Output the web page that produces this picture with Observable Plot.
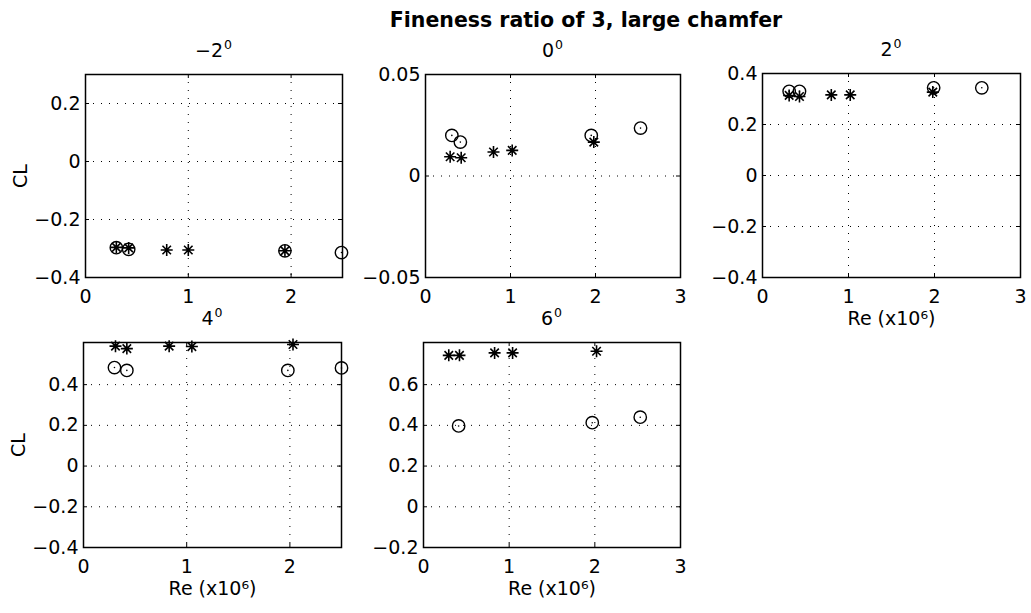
<!DOCTYPE html>
<html><head><meta charset="utf-8">
<script src="https://cdn.jsdelivr.net/npm/d3@7"></script>
<script src="https://cdn.jsdelivr.net/npm/@observablehq/plot@0.6"></script>
<style>
body{margin:0;background:#fff;}
#chart{position:relative;width:1031px;height:613px;font-family:"DejaVu Sans",sans-serif;color:#000;overflow:hidden;}
.ttl{position:absolute;font-weight:bold;font-size:20.5px;white-space:nowrap;transform:translateX(-50%);line-height:1}
.sub{position:absolute;font-size:19px;white-space:nowrap;transform:translateX(-50%);line-height:1}
.sub sup{font-size:12.5px;vertical-align:0;position:relative;top:-0.6em;margin-left:1px}
.panel{position:absolute}
</style></head><body><div id="chart"></div>
<script>
// ---- data ----
const chartTitle = "Fineness ratio of 3, large chamfer";
const angles = ["−2", "0", "2", "4", "6"];
const xLabelText = "Re (x10⁶)";
const yLabelText = "CL";

// −2 deg
const circRe_m2 = [0.30, 0.42, 1.94, 2.49];
const circCL_m2 = [-0.297, -0.303, -0.308, -0.314];
const starRe_m2 = [0.30, 0.42, 0.79, 1.00, 1.94];
const starCL_m2 = [-0.296, -0.298, -0.305, -0.305, -0.308];
// 0 deg
const circRe_0 = [0.31, 0.41, 1.95, 2.53];
const circCL_0 = [0.0200, 0.0167, 0.0200, 0.0236];
const starRe_0 = [0.29, 0.42, 0.80, 1.02, 1.98];
const starCL_0 = [0.0095, 0.0090, 0.0118, 0.0126, 0.0167];
// 2 deg
const circRe_2 = [0.31, 0.43, 1.99, 2.55];
const circCL_2 = [0.330, 0.330, 0.344, 0.344];
const starRe_2 = [0.31, 0.43, 0.80, 1.02, 1.98];
const starCL_2 = [0.314, 0.310, 0.316, 0.316, 0.327];
// 4 deg
const circRe_4 = [0.30, 0.42, 1.98, 2.50];
const circCL_4 = [0.484, 0.470, 0.470, 0.482];
const starRe_4 = [0.31, 0.42, 0.83, 1.05, 2.03];
const starCL_4 = [0.589, 0.577, 0.589, 0.587, 0.597];
// 6 deg
const circRe_6 = [0.41, 1.97, 2.53];
const circCL_6 = [0.397, 0.413, 0.440];
const starRe_6 = [0.295, 0.42, 0.83, 1.04, 2.02];
const starCL_6 = [0.744, 0.744, 0.756, 0.756, 0.764];

// axis domains and tick labels
const xDom25 = [0, 2.5], xDom3 = [0, 3];
const xTicks25 = [0, 1, 2], xTicks3 = [0, 1, 2, 3];
const yDom_m2 = [-0.4, 0.3], yTicks_m2 = [-0.4, -0.2, 0, 0.2];
const yDom_0 = [-0.05, 0.05], yTicks_0 = [-0.05, 0, 0.05];
const yDom_2 = [-0.4, 0.4], yTicks_2 = [-0.4, -0.2, 0, 0.2, 0.4];
const yDom_4 = [-0.4, 0.607], yTicks_4 = [-0.4, -0.2, 0, 0.2, 0.4];
const yDom_6 = [-0.2, 0.807], yTicks_6 = [-0.2, 0, 0.2, 0.4, 0.6];

// ---- layout ----
const frames = [
  {L: 85, R: 342, T: 74, B: 277},
  {L: 425, R: 680, T: 74, B: 277},
  {L: 762, R: 1020, T: 73, B: 277},
  {L: 83, R: 341, T: 342, B: 547},
  {L: 423, R: 680, T: 342, B: 547}
];
const M = {left: 80, right: 22, top: 20, bottom: 56};

// 8-armed asterisk like MATLAB '*'
const star8 = {
  draw(ctx, size) {
    const r = Math.sqrt(size / Math.PI);
    for (let k = 0; k < 4; k++) {
      const a = k * Math.PI / 4, c = Math.cos(a) * r, s = Math.sin(a) * r;
      ctx.moveTo(-c, -s); ctx.lineTo(c, s);
    }
  }
};

const fmt = v => (v < 0 ? "−" : "") + String(Math.abs(v));
const zip = (a, b) => a.map((x, i) => ({re: x, cl: b[i]}));

const panels = [
  {circ: zip(circRe_m2, circCL_m2), star: zip(starRe_m2, starCL_m2), xd: xDom25, xt: xTicks25, yd: yDom_m2, yt: yTicks_m2, yl: true, xl: false},
  {circ: zip(circRe_0, circCL_0), star: zip(starRe_0, starCL_0), xd: xDom3, xt: xTicks3, yd: yDom_0, yt: yTicks_0, yl: false, xl: false},
  {circ: zip(circRe_2, circCL_2), star: zip(starRe_2, starCL_2), xd: xDom3, xt: xTicks3, yd: yDom_2, yt: yTicks_2, yl: false, xl: true},
  {circ: zip(circRe_4, circCL_4), star: zip(starRe_4, starCL_4), xd: xDom25, xt: xTicks25, yd: yDom_4, yt: yTicks_4, yl: true, xl: true},
  {circ: zip(circRe_6, circCL_6), star: zip(starRe_6, starCL_6), xd: xDom3, xt: xTicks3, yd: yDom_6, yt: yTicks_6, yl: false, xl: true}
];

const chart = document.getElementById("chart");

const t = document.createElement("div");
t.className = "ttl"; t.textContent = chartTitle;
t.style.left = "586px"; t.style.top = "10px";
chart.appendChild(t);

panels.forEach((p, i) => {
  const f = frames[i];
  const fw = f.R - f.L, fh = f.B - f.T;
  const inner = (arr, dom) => arr.filter(v => v > dom[0] && v < dom[1]);
  const plot = Plot.plot({
    width: M.left + fw + M.right,
    height: M.top + fh + M.bottom,
    marginLeft: M.left, marginRight: M.right, marginTop: M.top, marginBottom: M.bottom,
    style: {background: "transparent", fontSize: "19px", fontFamily: "DejaVu Sans, sans-serif", color: "black", overflow: "visible"},
    x: {domain: p.xd, ticks: p.xt, tickFormat: fmt, tickSize: 0, tickPadding: 12,
        label: p.xl ? xLabelText : null, labelAnchor: "center", labelOffset: 47, labelArrow: "none"},
    y: {domain: p.yd, ticks: p.yt, tickFormat: fmt, tickSize: 0, tickPadding: 5,
        label: p.yl ? yLabelText : null, labelAnchor: "center", labelOffset: 72, labelArrow: "none"},
    marks: [
      Plot.ruleX(inner(p.xt, p.xd), {x: d => d, stroke: "black", strokeWidth: 1, strokeDasharray: "1,7"}),
      Plot.ruleY(inner(p.yt, p.yd), {y: d => d, stroke: "black", strokeWidth: 1, strokeDasharray: "1,7"}),
      Plot.tickX(p.xt, {x: d => d, insetTop: fh - 4, stroke: "black"}),
      Plot.tickX(p.xt, {x: d => d, insetBottom: fh - 4, stroke: "black"}),
      Plot.tickY(p.yt, {y: d => d, insetRight: fw - 4, stroke: "black"}),
      Plot.tickY(p.yt, {y: d => d, insetLeft: fw - 4, stroke: "black"}),
      Plot.frame({stroke: "black", strokeWidth: 1.5}),
      Plot.dot(p.circ, {x: "re", y: "cl", r: 6.2, stroke: "black", strokeWidth: 1.4, fill: "none"}),
      Plot.dot(p.circ, {x: "re", y: "cl", r: 0.8, fill: "black", stroke: "none"}),
      Plot.dot(p.star, {x: "re", y: "cl", r: 6, symbol: star8, stroke: "black", strokeWidth: 1.6, fill: "none"})
    ]
  });
  plot.classList.add("panel");
  plot.style.left = (f.L - M.left) + "px";
  plot.style.top = (f.T - M.top) + "px";
  chart.appendChild(plot);

  const s = document.createElement("div");
  s.className = "sub";
  s.innerHTML = angles[i] + "<sup>0</sup>";
  s.style.left = ((f.L + f.R) / 2) + "px";
  s.style.top = (f.T - 17 - 16.1) + "px";
  chart.appendChild(s);
});
</script></body></html>
